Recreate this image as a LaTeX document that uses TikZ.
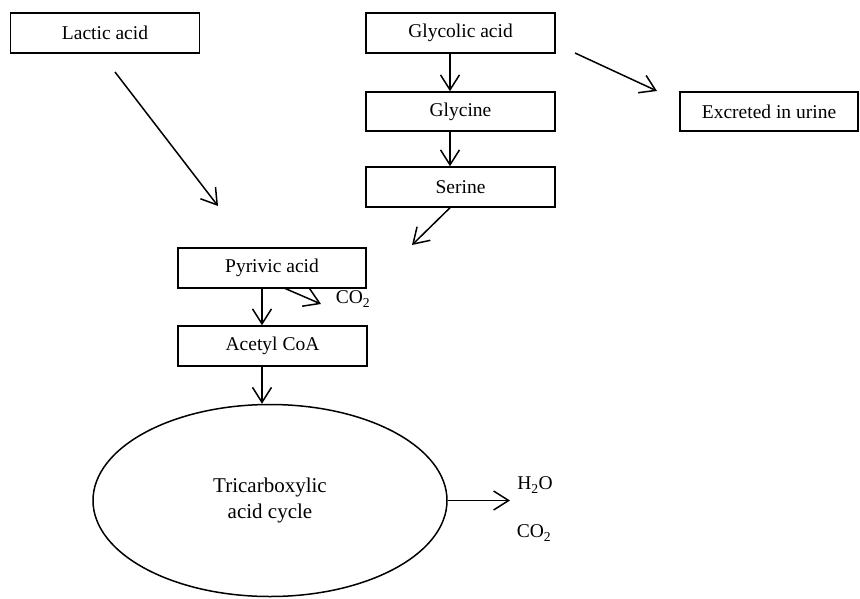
\documentclass[tikz,border=0pt]{standalone}
\usepackage{fontspec}
\setmainfont{Liberation Serif}
\usetikzlibrary{arrows.meta,shapes.geometric}
\begin{document}
\begin{tikzpicture}[x=1pt,y=-1pt,
  every node/.style={font=\fontsize{19.5}{24}\selectfont},
  boxnode/.style={draw,line width=1.5pt,minimum width=189pt,minimum height=40pt,inner sep=0pt},
  arr/.style={line width=1.5pt,-{Straight Barb[length=15pt,width=19pt,line width=1.5pt]}},
  lbl/.style={inner sep=0pt}]
\useasboundingbox (0,0) rectangle (860,598);
\node[boxnode] (lactic) at (105,33) {Lactic acid};
\node[boxnode] (glycolic) at (460.5,33) {Glycolic acid};
\node[boxnode,minimum height=39pt] (glycine) at (460.5,111.5) {Glycine};
\node[boxnode,minimum height=39pt,minimum width=178pt] (excreted) at (769,111.5) {Excreted in urine};
\node[boxnode] (serine) at (460.5,187) {Serine};
\node[boxnode,minimum width=188pt] (pyrivic) at (272,268) {Pyrivic acid};
\node[boxnode] (acetyl) at (272.5,346) {Acetyl CoA};
\node[draw,ellipse,line width=1.5pt,minimum width=354pt,minimum height=192pt,inner sep=0pt,align=center,font=\fontsize{21}{26}\selectfont] (tca) at (270,500.5) {Tricarboxylic\\acid cycle};
\node[lbl] (co2a) at (353,299) {CO\textsubscript{2}};
\node[lbl] (h2o) at (535,485) {H\textsubscript{2}O};
\node[lbl] (co2b) at (534,533) {CO\textsubscript{2}};
% arrow guide coordinates
\coordinate (ax) at (450,0);
\coordinate (bx) at (262,0);
\coordinate (lacs) at (115,72);
\coordinate (lace) at (218,206);
\coordinate (exs) at (575,53);
\coordinate (exe) at (657,91);
\coordinate (sere) at (412,245);
\coordinate (pys) at (284,288);
\coordinate (pye) at (321,304);
\coordinate (tcae) at (510,500.5);
% connectors
\draw[arr] (lacs) -- (lace);
\draw[arr] (glycolic.south -| ax) -- (glycine.north -| ax);
\draw[arr] (glycine.south -| ax) -- (serine.north -| ax);
\draw[arr] (exs) -- (exe);
\draw[arr] (serine.south -| ax) -- (sere);
\draw[arr] (pyrivic.south -| bx) -- (acetyl.north -| bx);
\draw[arr] (pys) -- (pye);
\draw[arr] (acetyl.south -| bx) -- (bx |- tca.north);
\draw[arr] (tca.east) -- (tcae);
\end{tikzpicture}
\end{document}
